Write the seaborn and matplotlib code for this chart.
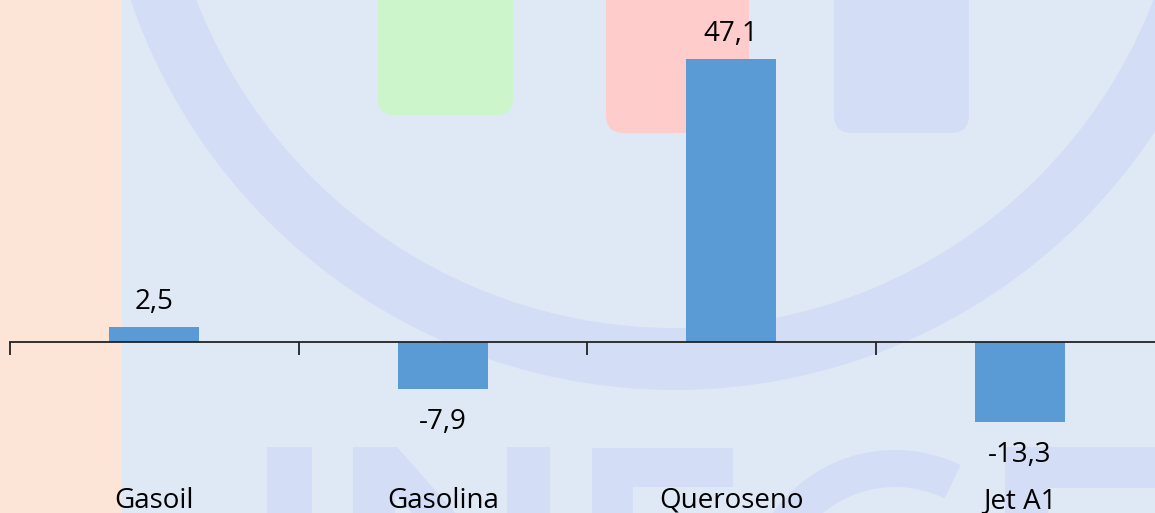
import matplotlib
matplotlib.use("Agg")
import matplotlib.pyplot as plt
import seaborn as sns
import pandas as pd
from matplotlib.patches import Rectangle, FancyBboxPatch, Wedge, Polygon

# ---- data ----
categories = ["Gasoil", "Gasolina", "Queroseno", "Jet A1"]
values = [2.5, -7.9, 47.1, -13.3]
value_labels = ["2,5", "-7,9", "47,1", "-13,3"]

W, H = 1155, 513
DPI = 100

sns.set_theme(style="white")
plt.rcParams['font.family'] = ['Open Sans', 'DejaVu Sans']

fig = plt.figure(figsize=(W / DPI, H / DPI), dpi=DPI)
BG = "#dfe9f5"
fig.patch.set_facecolor(BG)

# ---- background watermark (decoration, pixel coordinates) ----
bg = fig.add_axes([0, 0, 1, 1], zorder=0)
bg.set_xlim(0, W)
bg.set_ylim(H, 0)
bg.axis('off')
ring_c = "#d4ddf6"
bg.add_patch(Rectangle((0, 0), 122, H, color="#fce4d6", lw=0))
bg.add_patch(Wedge((675, -185), 575, 0, 360, width=62, color=ring_c, lw=0))
bg.add_patch(FancyBboxPatch((378, -40), 135, 155, boxstyle="round,pad=0,rounding_size=16",
                            color="#ccf5cc", lw=0))
bg.add_patch(FancyBboxPatch((606, -40), 143, 173, boxstyle="round,pad=0,rounding_size=18",
                            color="#ffcccc", lw=0))
bg.add_patch(FancyBboxPatch((834, -40), 135, 173, boxstyle="round,pad=0,rounding_size=18",
                            color=ring_c, lw=0))
# letters
bg.add_patch(Rectangle((267, 447), 45, 120, color=ring_c, lw=0))
bg.add_patch(Rectangle((353, 447), 42, 120, color=ring_c, lw=0))
bg.add_patch(Rectangle((507, 447), 43, 120, color=ring_c, lw=0))
bg.add_patch(Polygon([(353, 447), (397, 447), (550, 620), (507, 620)], closed=True, color=ring_c, lw=0))
bg.add_patch(Rectangle((592, 448), 41, 120, color=ring_c, lw=0))
bg.add_patch(Rectangle((592, 448), 141, 39, color=ring_c, lw=0))
bg.add_patch(Wedge((895, 600), 150, 110, 296, width=37, color=ring_c, lw=0))
bg.add_patch(Rectangle((1005, 447), 150, 41, color=ring_c, lw=0))
bg.add_patch(Rectangle((1005, 447), 43, 120, color=ring_c, lw=0))

# ---- main chart ----
ax = fig.add_axes([10 / W, 0, (W - 10) / W, 1], zorder=1)
ax.set_facecolor("none")
df = pd.DataFrame({"cat": categories, "val": values})
sns.barplot(data=df, x="cat", y="val", color="#5b9bd5", width=0.312,
            saturation=1, linewidth=0, ax=ax)

px_per_cat = 288.5
px_per_unit = 6.008
ax.set_xlim(-0.5, -0.5 + (W - 10) / px_per_cat)
ax.set_ylim(-(H - 342) / px_per_unit, 342 / px_per_unit)

for s in ["top", "left", "right"]:
    ax.spines[s].set_visible(False)
AXC = "#222222"
ax.spines["bottom"].set_position(("data", 0))
ax.spines["bottom"].set_color(AXC)
ax.spines["bottom"].set_linewidth(1.3)
ax.set_xticks([-0.5, 0.5, 1.5, 2.5])
ax.set_xticklabels([])
ax.tick_params(axis="x", direction="out", length=9, width=1.3, color=AXC, bottom=True)
ax.set_yticks([])
ax.set_xlabel("")
ax.set_ylabel("")

for i, (v, lab) in enumerate(zip(values, value_labels)):
    off = 18 if v > 0 else -40
    ax.annotate(lab, xy=(i, v), xytext=(0, off * 72 / DPI), textcoords="offset points",
                ha="center", va="baseline", fontsize=20, color="black")

for i, cat in enumerate(categories):
    ax.annotate(cat, xy=(i, 5), xycoords=("data", "figure pixels"),
                ha="center", va="baseline", fontsize=20, color="black")

fig.savefig("out.png", dpi=DPI, facecolor=BG)
